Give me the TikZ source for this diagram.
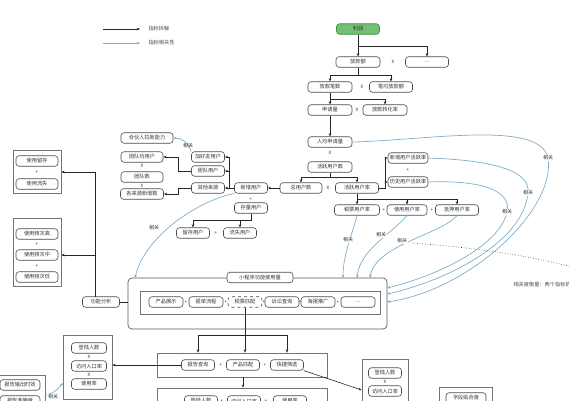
\documentclass[tikz,border=0pt]{standalone}
\usepackage{fontspec}
\newfontfamily\cjk{Noto Sans CJK SC}
\usetikzlibrary{arrows.meta,calc}
\definecolor{relc}{HTML}{7EB0CC}
\definecolor{gfill}{HTML}{72C072}
\definecolor{gdraw}{HTML}{3F8F45}
\begin{document}
\begin{tikzpicture}[x=1pt,y=-1pt,
  every node/.style={font=\cjk\fontsize{5.2}{6}\selectfont, text=black!80},
  bx/.style={draw=black!70, line width=0.6pt, rounded corners=3pt, minimum height=10.5pt, inner sep=0pt, minimum width=#1, fill=white},
  bx/.default=43pt,
  grp/.style={draw=black!55, line width=0.7pt, inner sep=0pt},
  arr/.style={-{Stealth[length=3.2pt,width=2.6pt]}, line width=0.6pt, draw=black!85},
  ln/.style={line width=0.6pt, draw=black!85},
  rel/.style={-{Stealth[length=3.2pt,width=2.6pt]}, line width=0.7pt, draw=relc},
  op/.style={font=\cjk\fontsize{4.6}{5}\selectfont, inner sep=0pt},
  lab/.style={font=\cjk\fontsize{5}{6}\selectfont, inner sep=0.6pt, fill=white}
]
\fill[white] (0,0) rectangle (569,400);
\useasboundingbox (0,0) rectangle (569,400);

% legend
\coordinate (l1a) at (103,29); \coordinate (l1b) at (140,29);
\coordinate (l2a) at (103,43); \coordinate (l2b) at (140,43);
\draw[arr] (l1a) -- (l1b);
\draw[rel] (l2a) -- (l2b);
\node[anchor=west, text=black!70] (l1t) at (145,29) {指标拆解};
\node[anchor=west, text=black!70] (l2t) at (145,43) {指标相关性};

% top tree
\node[bx, fill=gfill, draw=gdraw] (lirun) at (358,29) {利润};
\node[bx=44pt] (fke) at (358,62) {放款额};
\node[op] (x1) at (393,62) {X};
\node[bx] (dd1) at (427,62) {...};
\node[bx=44pt] (fkbs) at (330,87) {放款笔数};
\node[op] (x2) at (362,87) {X};
\node[bx] (bjfke) at (391,87) {笔均放款额};
\node[bx=44pt] (sql) at (330,110) {申请量};
\node[op] (x3) at (357,110) {X};
\node[bx=44pt] (fkzhl) at (385,110) {放款转化率};
\node[bx=44pt] (rjsql) at (330,142) {人均申请量};
\node[op] (x4) at (330,153) {X};
\node[bx=44pt] (hyyhs) at (330,167) {活跃用户数};
\node[bx=42pt] (zyhs) at (301,188) {总用户数};
\node[op] (x5) at (328,188) {X};
\node[bx] (hyyhl) at (357,188) {活跃用户率};
\node[bx=40pt] (xzhyl) at (408,158) {新增用户活跃率};
\node[op] (p1) at (408,170) {+};
\node[bx=40pt] (lshyl) at (408,182) {历史用户活跃率};
\node[bx=45pt] (spyhl) at (357,210) {税票用户率};
\node[op] (p2) at (384,210) {+};
\node[bx=40pt] (syyhl) at (407,210) {使用用户率};
\node[op] (p3) at (432,210) {+};
\node[bx] (dyyhl) at (457,210) {抵押用户率};

\draw[arr] (lirun.south) -- (fke.north);
\draw[arr] (lirun.south) -- ++(0,12) -| (dd1.north);
\draw[arr] (fke.south) -- ++(0,8) -| (fkbs.north);
\draw[arr] (fke.south) -- ++(0,8) -| (bjfke.north);
\draw[arr] (fkbs.south) -- (sql.north);
\draw[arr] (fkbs.south) -- ++(0,6.5) -| (fkzhl.north);
\draw[arr] (sql.south) -- (rjsql.north);
\draw[arr] (hyyhs.south) -- ++(0,5) -| (zyhs.north);
\draw[arr] (hyyhs.south) -- ++(0,5) -| (hyyhl.north);
\draw[arr] (hyyhl.east) -- ++(6,0) |- (xzhyl.west);
\draw[arr] (hyyhl.east) -- ++(6,0) |- (lshyl.west);
\draw[arr] (hyyhl.south) -- (spyhl.north);
\draw[arr] (hyyhl.south) -- ++(0,6) -| (syyhl.north);
\draw[arr] (hyyhl.south) -- ++(0,6) -| (dyyhl.north);

% left tree
\node[bx=52pt] (hhr) at (147,138) {合伙人拉新能力};
\node[bx=42pt] (tdjyh) at (142,157) {团队均用户};
\node[op] (x6) at (142,165.5) {X};
\node[bx=42pt] (tds) at (142,177) {团队数};
\node[op] (x7) at (142,185.5) {X};
\node[bx] (glyxzs) at (142,194) {各来源新增数};
\node[bx=33pt] (jhyyh) at (208,157) {加好友用户};
\node[bx=33pt] (tdyh) at (208,171) {团队用户};
\node[bx=33pt] (qtly) at (208,188) {其他来源};
\node[bx=33pt] (xzyh) at (251,188) {新增用户};
\node[op] (p4) at (251,199) {+};
\node[bx=33pt] (clyh) at (251,208) {存量用户};
\node[bx=33pt] (lcyh) at (193,233) {留存用户};
\node[op] (p5) at (216,233) {+};
\node[bx=33pt] (lsyh) at (240,233) {流失用户};

\draw[arr] (zyhs.west) -- (xzyh.east);
\draw[arr] (xzyh.west) -- ++(-5,0) |- (jhyyh.east);
\draw[arr] (xzyh.west) -- ++(-5,0) |- (tdyh.east);
\draw[arr] (xzyh.west) -- (qtly.east);
\draw[arr] (tdyh.west) -- ++(-13,0) |- (tdjyh.east);
\draw[arr] (qtly.west) -- ++(-13,0) |- (glyxzs.east);
\draw[arr] (clyh.south) -- ++(0,6.5) -| (lcyh.north);
\draw[arr] (clyh.south) -- ++(0,6.5) -| (lsyh.north);

% left groups
\node[grp, minimum width=48pt, minimum height=43pt] (g1) at (37,171.5) {};
\node[bx=42pt] (sylc) at (37,161) {使用留存};
\node[op] (p6) at (37,172.5) {+};
\node[bx=42pt] (syls) at (37,184) {使用流失};
\node[grp, minimum width=48pt, minimum height=68pt] (g2) at (37,252) {};
\node[bx=42pt] (sypg) at (37,234) {使用频次高};
\node[op] (p7) at (37,244.5) {+};
\node[bx=42pt] (sypz) at (37,255) {使用频次中};
\node[op] (p8) at (37,266) {+};
\node[bx=42pt] (sypd) at (37,277) {使用频次低};

\node[bx=37pt] (gnfx) at (101,302) {功能分析};
\coordinate (gnv) at (95,296.75);
\draw[ln] (gnv) -- (95,172);
\draw[arr] (95,172) -- (g1.east |- 0,172);
\draw[arr] (95,255) -- (g2.east |- 0,255);

% big box
\node[grp, draw=black!65, rounded corners=4pt, minimum width=259pt, minimum height=51pt] (big) at (257.5,303.5) {};
\node[grp, minimum width=240pt, minimum height=23pt] (inner) at (260,303) {};
\node[bx=66pt] (xcx) at (260,277.5) {小程序功能使用量};
\draw[ln] (gnfx.east) -- (big.west |- gnfx.east);
\node[bx=34pt] (cpzs) at (166,302) {产品展示};
\node[op] (p9) at (186,302) {+};
\node[bx=34pt] (tdlc) at (206,302) {提单流程};
\node[op] (p10) at (226,302) {+};
\node[bx=34pt, dashed] (sppp) at (245,302) {税票匹配};
\node[op] (p11) at (264,302) {+};
\node[bx=34pt] (sscx) at (282,302) {诉讼查询};
\node[op] (p12) at (300,302) {+};
\node[bx=34pt] (hbtg) at (318,302) {海报推广};
\node[op] (p13) at (338,302) {+};
\node[bx=34pt] (dd2) at (358,302) {...};

% bottom
\node[grp, minimum width=170pt, minimum height=24pt] (g3) at (242,365) {};
\node[bx=33pt] (bgcx) at (198,365) {报告查询};
\node[op] (p14) at (221,365) {+};
\node[bx=33pt] (cppp) at (243,365) {产品匹配};
\node[op] (p15) at (265,365) {+};
\node[bx=33pt] (kjsx) at (287,365) {快捷筛选};

\coordinate (bs) at (243,335);
\draw[arr] (sppp.south) -- (sppp.south |- g3.north);
\draw[ln] (sppp.south |- bs) -| (bgcx.north |- bs);
\draw[arr] (bgcx.north |- bs) -- (bgcx.north |- g3.north);
\draw[ln] (sppp.south |- bs) -| (kjsx.north |- bs);
\draw[arr] (kjsx.north |- bs) -- (kjsx.north |- g3.north);

\node[grp, minimum width=170pt, minimum height=24pt] (g4) at (242,400) {};
\node[bx=33pt] (dlrs2) at (201,401) {登陆人数};
\node[op] (p16) at (222,401) {+};
\node[bx=33pt] (fwrk2) at (244,401) {访问入口率};
\node[op] (p17) at (266,401) {+};
\node[bx=33pt] (syl2) at (290,401) {使用率};
\draw[arr] (cppp.south |- g3.south) -- (cppp.south |- g4.north);

\node[grp, minimum width=49pt, minimum height=64pt] (g5) at (87.5,367) {};
\node[bx=35pt] (dlrs1) at (89,348) {登陆人数};
\node[op] (x8) at (89,356.5) {X};
\node[bx=35pt] (fwrk1) at (89,366) {访问入口率};
\node[op] (x9) at (89,375) {X};
\node[bx=35pt] (syl1) at (89,384) {使用率};
\draw[arr] (bgcx.west) -- (g5.east |- bgcx.west);

\node[grp, minimum width=48pt, minimum height=36pt] (g6) at (21,393) {};
\node[bx=40pt] (bgsx) at (20,385) {报告输出时效};
\node[bx=40pt] (bgzq) at (20,401) {报告准确度};
\coordinate (r0) at (46,395);
\coordinate (r1) at (63,383);
\draw[rel] (r0) .. controls (55,392) .. (r1);
\node[lab] (xg0) at (53,397) {相关};

\node[grp, minimum width=46pt, minimum height=52pt] (g7) at (385,385) {};
\node[bx=33pt] (dlrs3) at (385,373) {登陆人数};
\node[op] (x10) at (385,381.5) {X};
\node[bx=33pt] (fwrk3) at (385,391) {访问入口率};
\draw[arr] (kjsx.south east) -- (g7.west |- 0,390);

\node[grp, minimum width=53pt, minimum height=24pt] (g8) at (466,399) {};
\node[bx=40pt] (zdth) at (466,398) {字段贴合度};

% relation arrows
\coordinate (t1) at (343,278);
\coordinate (t2) at (357,278);
\coordinate (t3) at (370,278);
\coordinate (r1a) at (387,288);
\coordinate (r2a) at (387,294);
\coordinate (r3a) at (387,302);
\coordinate (tl) at (135,278);

\draw[rel] (spyhl.south) .. controls (352,235) and (343,255) .. (t1);
\draw[rel] (syyhl.south) .. controls (390,235) and (360,250) .. (t2);
\draw[rel] (dyyhl.south) .. controls (440,235) and (375,245) .. (t3);
\node[lab] (xg1) at (348,240) {相关};
\node[lab] (xg2) at (381,235) {相关};
\node[lab] (xg3) at (402,241) {相关};

\draw[rel] (lshyl.east) .. controls (480,180) and (512,190) .. (507,212) .. controls (500,245) and (440,275) .. (r1a);
\node[lab] (xg4) at (507,212) {相关};
\draw[rel] (xzhyl.east) .. controls (490,160) and (530,170) .. (528,192) .. controls (525,240) and (450,280) .. (r2a);
\node[lab] (xg5) at (528,193) {相关};
\draw[rel] (rjsql.east) .. controls (430,140) and (540,120) .. (548,158) .. controls (556,210) and (470,290) .. (r3a);
\node[lab] (xg6) at (548,158) {相关};

\draw[rel] (xzyh.south west) .. controls (200,200) and (145,235) .. (tl);
\node[lab] (xg7) at (154,228) {相关};
\draw[rel] (jhyyh.north west) .. controls (188,142) and (182,138) .. (hhr.east);
\node[lab, fill=none] (xg8) at (188,146) {相关};

% dotted line and note
\coordinate (d0) at (412,243);
\coordinate (d1) at (572,267);
\draw[line width=0.6pt, dotted, black!80] (d0) .. controls (480,248) and (530,256) .. (d1);
\node[anchor=west, text=black!70] (note) at (510,285) {相关度衡量：两个指标的};
\end{tikzpicture}
\end{document}
